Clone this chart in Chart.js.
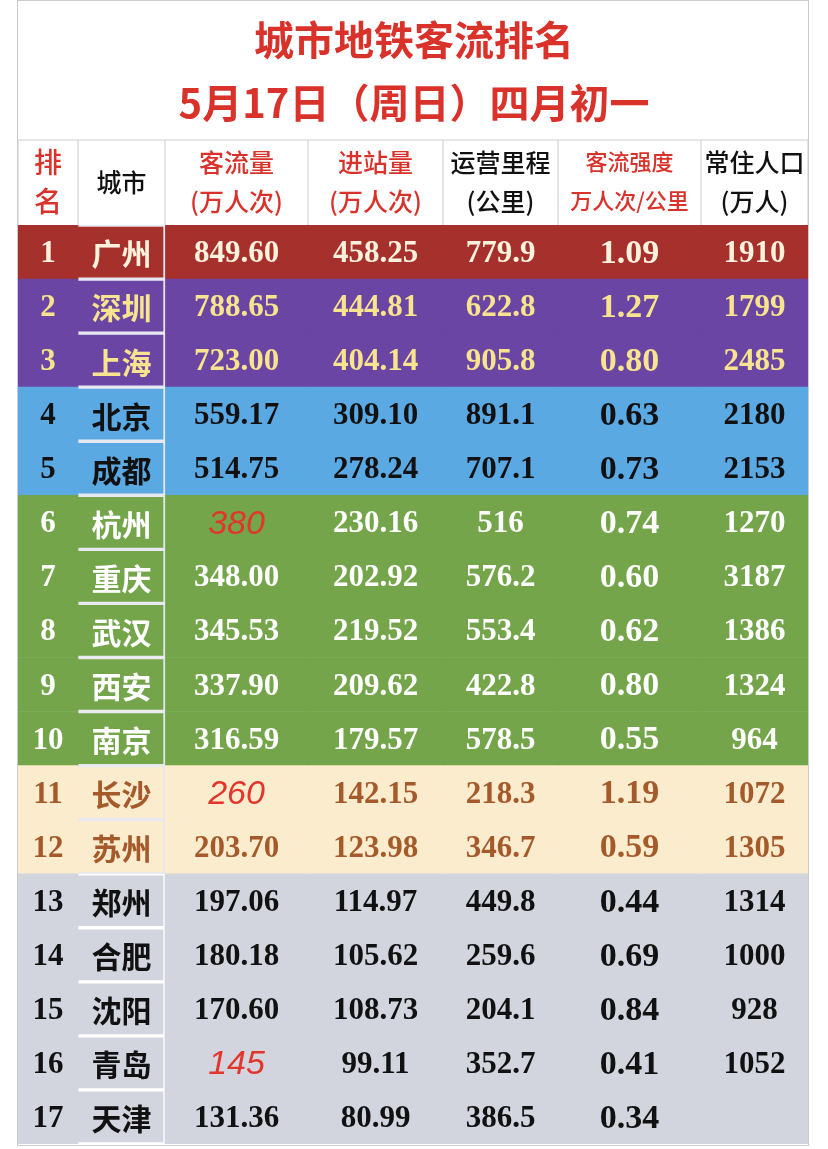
<!DOCTYPE html>
<html><head><meta charset="utf-8">
<script src="https://cdn.jsdelivr.net/npm/chart.js@4"></script>
<style>html,body{margin:0;padding:0;background:#fff}#w{width:828px;height:1149px}</style>
</head><body><div id="w"><canvas id="c"></canvas></div>
<script>
const titleLines = ["城市地铁客流排名", "5月17日（周日）四月初一"];
const headers = [["排","名"],["城市"],["客流量","(万人次)"],["进站量","(万人次)"],["运营里程","(公里)"],["客流强度","万人次/公里"],["常住人口","(万人)"]];
const headerRed = [true,false,true,true,false,true,false];
const ranks = ["1","2","3","4","5","6","7","8","9","10","11","12","13","14","15","16","17"];
const cities = ["广州","深圳","上海","北京","成都","杭州","重庆","武汉","西安","南京","长沙","苏州","郑州","合肥","沈阳","青岛","天津"];
const passengers = ["849.60","788.65","723.00","559.17","514.75","380","348.00","345.53","337.90","316.59","260","203.70","197.06","180.18","170.60","145","131.36"];
const estimated = [false,false,false,false,false,true,false,false,false,false,true,false,false,false,false,true,false];
const entries = ["458.25","444.81","404.14","309.10","278.24","230.16","202.92","219.52","209.62","179.57","142.15","123.98","114.97","105.62","108.73","99.11","80.99"];
const mileage = ["779.9","622.8","905.8","891.1","707.1","516","576.2","553.4","422.8","578.5","218.3","346.7","449.8","259.6","204.1","352.7","386.5"];
const intensity = ["1.09","1.27","0.80","0.63","0.73","0.74","0.60","0.62","0.80","0.55","1.19","0.59","0.44","0.69","0.84","0.41","0.34"];
const population = ["1910","1799","2485","2180","2153","1270","3187","1386","1324","964","1072","1305","1314","1000","928","1052",""];
const colEdges = [0,60,147,290,425,540,683,790];

const tiers = [0,1,1,2,2,3,3,3,3,3,4,4,5,5,5,5,5];
const tierBg = ["#a6302b","#6a45a3","#5aa9e3","#74a54b","#fbeccd","#d2d5de"];
const tierFg = ["#fbf1dc","#f8e38e","#111111","#ffffff","#a55a2b","#111111"];
const columns = [ranks,cities,passengers,entries,mileage,intensity,population];

const datasets = columns.map((col,ci)=>({
  data: ranks.map(()=>[colEdges[ci],colEdges[ci+1]]),
  backgroundColor: tiers.map(t=>tierBg[t]),
  borderColor: ci===1 ? tiers.map(t=>t<5?"#e8e8f0":"rgba(0,0,0,0)") : "rgba(0,0,0,0)",
  borderWidth: ci===1 ? 2 : 0,
  barPercentage:1, categoryPercentage:1, grouped:false
}));

const textPlugin = {
  id:'txt',
  afterDatasetsDraw(chart){
    const ctx=chart.ctx, xs=chart.scales.x, ca=chart.chartArea;
    ctx.save();
    ctx.textAlign='center'; ctx.textBaseline='middle';
    ctx.fillStyle='#d9322b';
    ctx.font='bold 40px "Noto Sans CJK SC"';
    ctx.fillText(titleLines[0],414,40);
    ctx.fillText(titleLines[1],414,103);
    const hTop=140,hBot=ca.top;
    ctx.strokeStyle='#cccccc'; ctx.lineWidth=1;
    for(let i=0;i<colEdges.length;i++){const x=xs.getPixelForValue(colEdges[i]);ctx.beginPath();ctx.moveTo(x,hTop);ctx.lineTo(x,hBot);ctx.stroke();}
    ctx.beginPath();ctx.moveTo(xs.getPixelForValue(0),hTop);ctx.lineTo(xs.getPixelForValue(790),hTop);ctx.stroke();
    headers.forEach((h,i)=>{
      const x=(xs.getPixelForValue(colEdges[i])+xs.getPixelForValue(colEdges[i+1]))/2;
      ctx.fillStyle=headerRed[i]?'#d9322b':'#111';
      const fs = i===5?22:(i===0?28:25);
      ctx.font='500 '+fs+'px "Noto Sans CJK SC"';
      if(h.length===1) ctx.fillText(h[0],x,(hTop+hBot)/2);
      else {ctx.fillText(h[0],x,hTop+22);ctx.fillText(h[1],x,hTop+61);}
    });
    chart.data.datasets.forEach((ds,ci)=>{
      const meta=chart.getDatasetMeta(ci);
      meta.data.forEach((bar,ri)=>{
        const x=(bar.x+bar.base)/2, y=bar.y+2;
        const txt=columns[ci][ri];
        if(ci===2&&estimated[ri]){ctx.fillStyle='#e2352b';ctx.font='italic 500 34px "Liberation Sans"';}
        else if(ci===1){ctx.fillStyle=tierFg[tiers[ri]];ctx.font='bold 30px "Noto Sans CJK SC"';}
        else if(ci===5){ctx.fillStyle=tierFg[tiers[ri]];ctx.font='bold 34px "Liberation Serif"';}
        else {ctx.fillStyle=tierFg[tiers[ri]];ctx.font='bold 31px "Liberation Serif"';}
        ctx.fillText(txt,x,y);
      });
    });
    ctx.restore();
  }
};
const bgPlugin={id:'bg',beforeDraw(c){const x=c.ctx;x.save();x.fillStyle='#fff';x.fillRect(0,0,c.width,c.height);x.strokeStyle='#ccc';x.strokeRect(17.5,0.5,791,1145);x.restore();}};

new Chart(document.getElementById('c'),{
  type:'bar',
  data:{labels:ranks,datasets},
  options:{
    indexAxis:'y',responsive:true,maintainAspectRatio:false,animation:false,
    layout:{padding:{left:18,right:20,top:225,bottom:5}},
    plugins:{legend:{display:false},tooltip:{enabled:false},title:{display:false}},
    scales:{
      x:{type:'linear',min:0,max:790,display:false},
      y:{type:'category',display:false,offset:true,grid:{display:false}}
    }
  },
  plugins:[bgPlugin,textPlugin]
});
</script></body></html>
